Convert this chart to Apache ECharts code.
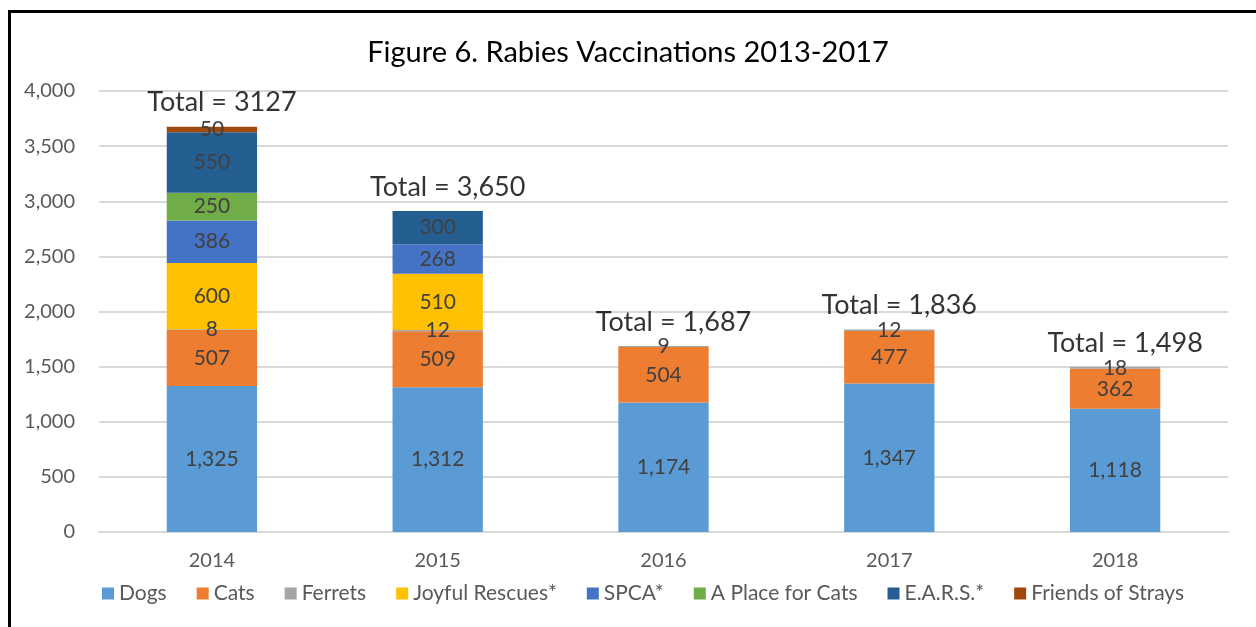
<!DOCTYPE html>
<html>
<head>
<meta charset="utf-8">
<script src="https://cdn.jsdelivr.net/npm/echarts@6/dist/echarts.min.js"></script>
<style>
  html, body { margin: 0; padding: 0; background: #fff; }
  #frame {
    position: absolute; left: 8px; top: 10px; width: 1300px; height: 700px;
    border-left: 3px solid #000; border-top: 3px solid #000;
  }
  #chart { position: absolute; left: 0; top: 0; width: 1256px; height: 627px; }
</style>
</head>
<body>
<div id="frame"></div>
<div id="chart"></div>
<script>
const years = ['2014', '2015', '2016', '2017', '2018']

const dogs = [1325, 1312, 1174, 1347, 1118]
const cats = [507, 509, 504, 477, 362]
const ferrets = [8, 12, 9, 12, 18]
const joyfulRescues = [600, 510, null, null, null]
const spca = [386, 268, null, null, null]
const placeForCats = [250, null, null, null, null]
const ears = [550, 300, null, null, null]
const friendsOfStrays = [50, null, null, null, null]

const totalLabels = ['Total = 3127', 'Total = 3,650', 'Total = 1,687', 'Total = 1,836', 'Total = 1,498']

const yTicks = [0, 500, 1000, 1500, 2000, 2500, 3000, 3500, 4000]

const groups = [
    { name: 'Dogs', data: dogs, color: '#5B9BD5' },
    { name: 'Cats', data: cats, color: '#ED7D31' },
    { name: 'Ferrets', data: ferrets, color: '#A5A5A5' },
    { name: 'Joyful Rescues*', data: joyfulRescues, color: '#FFC000' },
    { name: 'SPCA*', data: spca, color: '#4472C4' },
    { name: 'A Place for Cats', data: placeForCats, color: '#70AD47' },
    { name: 'E.A.R.S.*', data: ears, color: '#255E91' },
    { name: 'Friends of Strays', data: friendsOfStrays, color: '#9E480E' }
]

// top of each stack, used to hang the "Total" texts
const stackTops = years.map((y, i) => groups.reduce((s, g) => s + (g.data[i] || 0), 0))

const font = 'Lato, "Open Sans", sans-serif'

let series = groups.map(g => ({
    name: g.name,
    type: 'bar',
    stack: 'all',
    barWidth: '40%',
    itemStyle: { color: g.color },
    label: {
        show: true,
        position: 'inside',
        color: '#404040',
        fontFamily: font,
        fontSize: 21,
        formatter: p => p.value == null ? '' : p.value.toLocaleString('en-US')
    },
    data: g.data
}))

series.push({
    name: 'totals',
    type: 'scatter',
    symbolSize: 0,
    silent: true,
    label: {
        show: true,
        position: 'inside',
        offset: [10, -24],
        color: '#000',
        fontFamily: font,
        fontSize: 27,
        formatter: p => totalLabels[p.dataIndex]
    },
    data: stackTops
})

let option = {
    animation: false,
    backgroundColor: 'transparent',
    title: {
        text: 'Figure 6. Rabies Vaccinations 2013-2017',
        left: 'center',
        top: 33,
        textStyle: { fontFamily: font, fontSize: 29, fontWeight: 'normal', color: '#000' }
    },
    legend: {
        data: groups.map(g => g.name),
        bottom: 18,
        left: 97,
        itemWidth: 12,
        itemHeight: 12,
        itemGap: 30,
        icon: 'rect',
        textStyle: { fontFamily: font, fontSize: 21, color: '#595959' }
    },
    grid: { left: 99, right: 28, top: 91, bottom: 95 },
    xAxis: {
        type: 'category',
        data: years,
        axisTick: { show: false },
        axisLine: { lineStyle: { color: '#D9D9D9', width: 2 } },
        axisLabel: { fontFamily: font, fontSize: 20, color: '#595959', margin: 19 }
    },
    yAxis: {
        type: 'value',
        min: yTicks[0],
        max: yTicks[yTicks.length - 1],
        interval: 500,
        splitLine: { lineStyle: { color: '#D9D9D9', width: 2 } },
        axisLabel: {
            fontFamily: font, fontSize: 20, color: '#595959', margin: 24,
            formatter: v => v.toLocaleString('en-US')
        }
    },
    series: series
}

let chart = echarts.init(document.getElementById('chart'))
chart.setOption(option)
</script>
</body>
</html>
